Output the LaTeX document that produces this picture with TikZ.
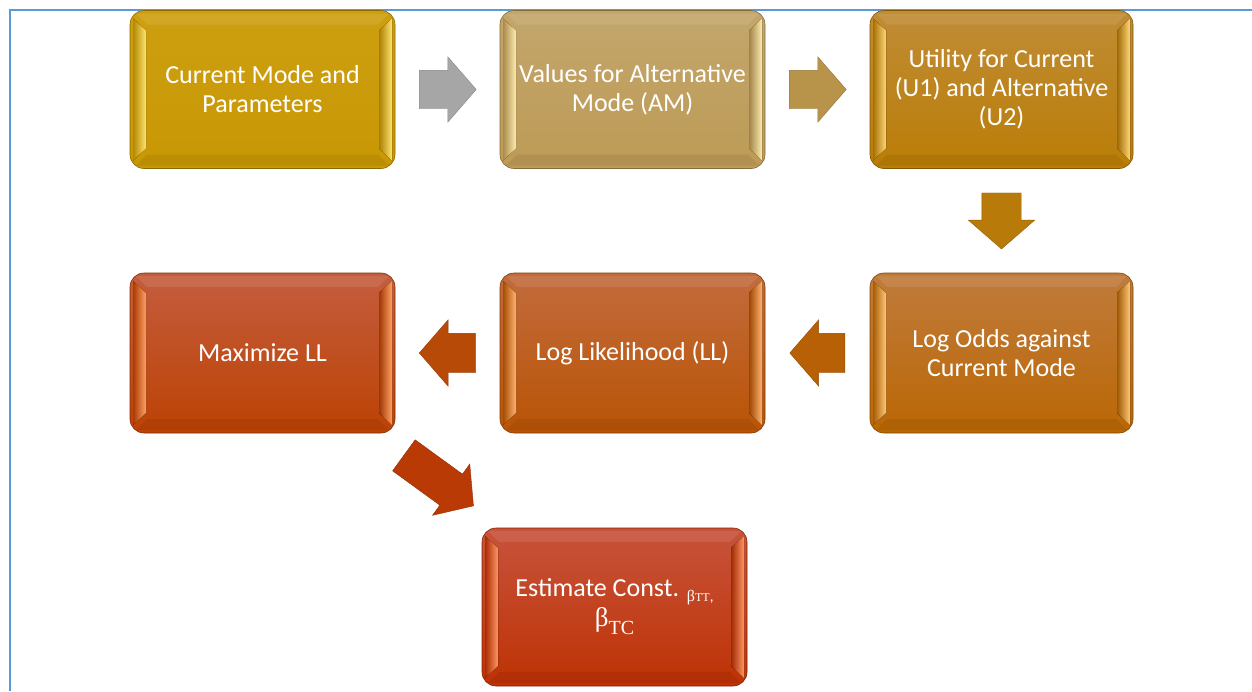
\documentclass[tikz,border=0pt]{standalone}
\usepackage{fontspec}
\setmainfont{Carlito}
\newfontfamily\serifgreek{Liberation Serif}
\usetikzlibrary{shapes.arrows,calc}

% frame
\definecolor{frameblue}{RGB}{91,155,213}
% box colours: top, bottom, bevel highlight
\definecolor{cAtop}{RGB}{205,159,16}  \definecolor{cAbot}{RGB}{200,151,4}   \definecolor{cAhl}{RGB}{255,228,110}
\definecolor{cBtop}{RGB}{195,166,108} \definecolor{cBbot}{RGB}{189,155,86}  \definecolor{cBhl}{RGB}{255,236,175}
\definecolor{cCtop}{RGB}{192,140,54}  \definecolor{cCbot}{RGB}{186,125,6}   \definecolor{cChl}{RGB}{255,215,120}
\definecolor{cDtop}{RGB}{192,123,60}  \definecolor{cDbot}{RGB}{186,103,4}   \definecolor{cDhl}{RGB}{255,200,120}
\definecolor{cEtop}{RGB}{194,107,60}  \definecolor{cEbot}{RGB}{185,84,6}    \definecolor{cEhl}{RGB}{255,180,110}
\definecolor{cFtop}{RGB}{196,93,62}   \definecolor{cFbot}{RGB}{188,66,4}    \definecolor{cFhl}{RGB}{255,160,100}
\definecolor{cGtop}{RGB}{199,83,60}   \definecolor{cGbot}{RGB}{190,50,4}    \definecolor{cGhl}{RGB}{255,150,100}
% arrow colours
\definecolor{arA}{RGB}{166,166,166}
\definecolor{arB}{RGB}{184,147,74}
\definecolor{arC}{RGB}{184,122,8}
\definecolor{arD}{RGB}{184,96,6}
\definecolor{arE}{RGB}{184,74,8}
\definecolor{arF}{RGB}{186,58,6}

\newcommand\boxfont{\fontsize{26}{29}\selectfont}

\tikzset{
  flowbox/.style n args={3}{
    rounded corners=14pt, minimum width=265pt, minimum height=158pt,
    inner sep=0pt, text=white, align=center, font=\boxfont,
    top color=#1, bottom color=#2, draw=#2!70!black, line width=0.6pt,
    path picture={
      \coordinate (pnw) at (path picture bounding box.north west);
      \coordinate (pne) at (path picture bounding box.north east);
      \coordinate (psw) at (path picture bounding box.south west);
      \coordinate (pse) at (path picture bounding box.south east);
      % top bevel
      \fill[sharp corners, #1!75!white, opacity=0.35]
        ([xshift=6pt,yshift=-3pt]pnw) -- ([xshift=-6pt,yshift=-3pt]pne)
        -- ([xshift=-17pt,yshift=-14pt]pne) -- ([xshift=17pt,yshift=-14pt]pnw) -- cycle;
      % bottom bevel
      \fill[sharp corners, #2!75!black, opacity=0.25]
        ([xshift=6pt,yshift=3pt]psw) -- ([xshift=-6pt,yshift=3pt]pse)
        -- ([xshift=-17pt,yshift=14pt]pse) -- ([xshift=17pt,yshift=14pt]psw) -- cycle;
      % left bevel
      \fill[sharp corners, left color=#2!90!black, right color=#3]
        ([xshift=3pt,yshift=-8pt]pnw) -- ([xshift=16pt,yshift=-20pt]pnw)
        -- ([xshift=16pt,yshift=20pt]psw) -- ([xshift=3pt,yshift=8pt]psw) -- cycle;
      % right bevel
      \fill[sharp corners, left color=#2!85!black, right color=#3]
        ([xshift=-3pt,yshift=-8pt]pne) -- ([xshift=-16pt,yshift=-20pt]pne)
        -- ([xshift=-16pt,yshift=20pt]pse) -- ([xshift=-3pt,yshift=8pt]pse) -- cycle;
    }
  },
  blockarrow/.style={
    single arrow, fill=#1, draw=#1!80!black, line width=0.4pt, anchor=tail,
    inner xsep=0pt, inner ysep=19pt, minimum width=65pt, minimum height=57pt,
    single arrow head extend=13.5pt, single arrow tip angle=98
  }
}

\begin{document}
\begin{tikzpicture}[x=1pt,y=-1pt]
  \useasboundingbox (0,0) rectangle (1252,691);
  \fill[white] (0,0) rectangle (1252,691);

  % page frame
  \draw[frameblue, line width=2pt] (10,691) -- (10,10) -- (1252,10);

  % process boxes
  \node[flowbox={cAtop}{cAbot}{cAhl}] (cur)  at (262.5,89.5) {Current Mode and\\Parameters};
  \node[flowbox={cBtop}{cBbot}{cBhl}] (alt)  at (632.5,89.5) {Values for Alternative\\Mode (AM)};
  \node[flowbox={cCtop}{cCbot}{cChl}, minimum width=263pt] (util) at (1001.5,89.5) {Utility for Current\\(U1) and Alternative\\(U2)};
  \node[flowbox={cDtop}{cDbot}{cDhl}, minimum width=263pt, minimum height=160pt] (odds) at (1001.5,353) {Log Odds against\\Current Mode};
  \node[flowbox={cEtop}{cEbot}{cEhl}, minimum height=160pt] (ll)   at (632.5,353) {Log Likelihood (LL)};
  \node[flowbox={cFtop}{cFbot}{cFhl}, minimum height=160pt] (maxl) at (262.5,353) {Maximize LL};
  \node[flowbox={cGtop}{cGbot}{cGhl}] (est) at (614.5,607)
    {Estimate Const. \raisebox{-5pt}{{\serifgreek\fontsize{16}{16}\selectfont β}{\serifgreek\fontsize{12}{12}\selectfont TT}{\fontsize{15}{15}\selectfont ,}}\\[1pt]%
     {\serifgreek\fontsize{27}{27}\selectfont β\raisebox{-8pt}{\fontsize{20}{20}\selectfont TC}}};

  % block arrows between the boxes (placed by their tails)
  \node[blockarrow=arA] (arr1) at ($($(cur.east)!0.5!(alt.west)$)+(-28.5,0)$) {};
  \node[blockarrow=arB] (arr2) at ($($(alt.east)!0.5!(util.west)$)+(-28.5,0)$) {};
  \node[blockarrow=arC, rotate=-90, inner ysep=19.5pt, minimum width=66pt, minimum height=56pt]
    (arr3) at ($($(util.south)!0.5!(odds.north)$)+(0,-28)$) {};
  \node[blockarrow=arD, rotate=180, inner ysep=19.5pt, minimum width=66pt, minimum height=55pt]
    (arr4) at ($($(odds.west)!0.5!(ll.east)$)+(27.5,0)$) {};
  \node[blockarrow=arE, rotate=180, inner ysep=19.5pt, minimum width=66pt, minimum height=56pt]
    (arr5) at ($($(ll.west)!0.5!(maxl.east)$)+(28,0)$) {};
  \node[blockarrow=arF, rotate=-36, minimum width=63pt, minimum height=86pt, single arrow head extend=12.5pt]
    (arr6) at ($($(maxl.south east)!0.5!(est.north west)$)+(-34.8,-25.3)$) {};
\end{tikzpicture}
\end{document}
